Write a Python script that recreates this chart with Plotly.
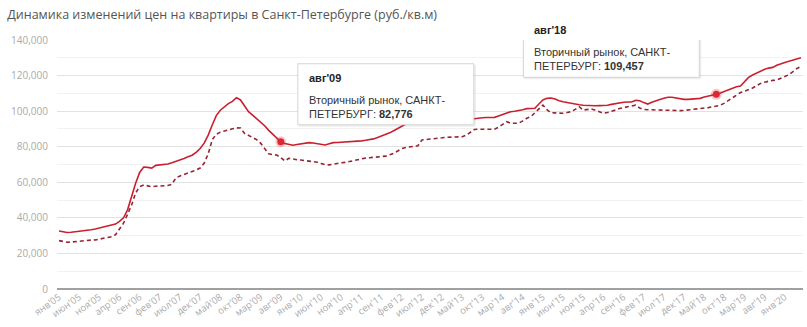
import plotly.graph_objects as go

months_ru = ["янв", "фев", "мар", "апр", "май", "июн", "июл", "авг", "сен", "окт", "ноя", "дек"]
start_year = 2005

secondary = [
    32600, 32200, 31800, 31900, 32100, 32400, 32800, 33100, 33300, 33700, 34200, 34800,
    35300, 35900, 36500, 38000, 40000, 44500, 52000, 59500, 65500, 68600, 68400, 68000,
    69500, 69800, 69900, 70300, 71000, 71700, 72500, 73400, 74300, 75200, 76800, 79000,
    82000, 86500, 92200, 97500, 100500, 102500, 104200, 105500, 107600, 106300, 103000, 99700,
    97800, 95800, 94000, 91800, 89200, 87000, 84500, 82776, 81800, 81300, 80800, 81200,
    81600, 82000, 82300, 82100, 81800, 81300, 81000, 81700, 82300, 82400, 82500, 82600,
    82700, 82800, 83000, 83300, 83600, 83800, 84400, 85200, 86000, 86800, 87800, 89000,
    90300, 91700, 93000, 94000, 94500, 94800, 95000, 95000, 94900, 95000, 95100, 95000,
    95100, 95200, 95200, 95300, 95300, 95400, 95400, 95800, 96100, 96300, 96400, 96400,
    96500, 97300, 98200, 99000, 99700, 99900, 100200, 100800, 101400, 101500, 101600, 104000,
    106300, 107200, 107400, 106800, 105800, 105300, 104800, 104300, 104000, 103600, 103300, 103100,
    103000, 103000, 103100, 103100, 103300, 103800, 104300, 104900, 105000, 105100, 105100, 106100,
    105800, 104800, 104000, 105000, 106000, 106600, 107200, 107800, 107800, 107400, 106700, 106600,
    106600, 106700, 106800, 107200, 107900, 108300, 108900, 109457, 110200, 111100, 111900, 112900,
    113700, 114100, 116500, 119000, 120300, 121500, 122700, 123500, 124200, 124600, 125800, 126800,
    127400, 128000, 128700, 129300, 130000,
]

primary = [
    27200, 26800, 26300, 26400, 26700, 26900, 27200, 27500, 27500, 27600, 28000, 28500,
    28800, 29400, 30500, 33500, 37000, 42000, 47200, 54000, 57500, 58500, 58000, 57500,
    57800, 58000, 58000, 58200, 58900, 62500, 63500, 64300, 65000, 66000, 66900, 68000,
    70800, 76000, 84000, 87000, 88200, 88800, 89600, 90100, 90600, 90500, 87500, 86300,
    85200, 84000, 82000, 79000, 76000, 75500, 75300, 73800, 72000, 73500, 73000, 72700,
    72500, 72300, 72100, 71800, 71300, 70600, 69900, 69800, 70300, 70900, 71000, 71200,
    71700, 72400, 73000, 73400, 73600, 73800, 74000, 74300, 74400, 74700, 75500, 76300,
    77600, 79000, 79600, 79900, 80000, 80500, 83800, 84000, 84100, 84200, 84500, 85000,
    85300, 85400, 85500, 85500, 85600, 86500, 88000, 89700, 89800, 89800, 89800, 89800,
    89800, 91000, 92500, 94100, 93200, 93200, 93200, 94500, 96000, 96900, 99000, 101600,
    103400, 100800, 99100, 99000, 98900, 98800, 99200, 99700, 101000, 102500, 100600, 100900,
    101200, 100500, 99600, 98800, 99200, 99700, 100600, 101500, 101900, 102400, 102900, 103400,
    101800, 101000, 100800, 100700, 100600, 100400, 100300, 100200, 100100, 100200, 100300, 100400,
    100600, 100800, 101000, 101300, 101600, 102000, 102400, 102800, 103300, 104500, 106000, 107800,
    109500, 110500, 111200, 111900, 113000, 114300, 115600, 116300, 116900, 117300, 117500, 118500,
    119400, 120500, 122200, 124000, 125000,
]

highlight_idx = [55, 163]
series_name = "Вторичный рынок, САНКТ-ПЕТЕРБУРГ"
title_text = "Динамика изменений цен на квартиры в Санкт-Петербурге (руб./кв.м)"

n = len(secondary)
labels = [f"{months_ru[i % 12]}'{(start_year + i // 12) % 100:02d}" for i in range(n)]
xs = list(range(n))
tick_vals = list(range(0, n, 5))
tick_text = [labels[i] for i in tick_vals]

fig = go.Figure()
fig.add_trace(go.Scatter(x=xs, y=primary, mode="lines",
                         line=dict(color="#952535", width=1.6, dash="4px,3px"),
                         hoverinfo="skip", showlegend=False))
fig.add_trace(go.Scatter(x=xs, y=secondary, mode="lines",
                         line=dict(color="#c8202f", width=1.6),
                         hoverinfo="skip", showlegend=False))
hx = highlight_idx
hy = [secondary[i] for i in hx]
fig.add_trace(go.Scatter(x=hx, y=hy, mode="markers",
                         marker=dict(size=11, color="rgba(220,40,50,0.25)"),
                         hoverinfo="skip", showlegend=False))
fig.add_trace(go.Scatter(x=hx, y=hy, mode="markers",
                         marker=dict(size=7, color="#dc2832"),
                         hoverinfo="skip", showlegend=False))

shapes = []
annotations = []
tip_font = "Liberation Sans, Arial, sans-serif"
for k, (i, v) in enumerate(zip(hx, hy)):
    if k == 0:
        x0, x1, tx = 17, 193, 26
    else:
        x0, x1, tx = -193, -17, -184
    # shadow
    shapes.append(dict(type="rect", xref="x", yref="y", xsizemode="pixel", ysizemode="pixel",
                       xanchor=i, yanchor=v, x0=x0 + 1, x1=x1 + 2, y0=15, y1=77,
                       line=dict(width=0), fillcolor="rgba(0,0,0,0.07)", layer="above"))
    shapes.append(dict(type="rect", xref="x", yref="y", xsizemode="pixel", ysizemode="pixel",
                       xanchor=i, yanchor=v, x0=x0, x1=x1, y0=17, y1=78,
                       line=dict(width=1, color="#d4d4d4"), fillcolor="white", layer="above"))
    annotations.append(dict(x=i, y=v, xref="x", yref="y", showarrow=False,
                            xanchor="left", yanchor="middle", xshift=tx, yshift=64,
                            text=f"<b>{labels[i]}</b>",
                            font=dict(family=tip_font, size=11, color="#222")))
    annotations.append(dict(x=i, y=v, xref="x", yref="y", showarrow=False,
                            xanchor="left", yanchor="middle", xshift=tx, yshift=35,
                            align="left",
                            text=f"Вторичный рынок, САНКТ-<br>ПЕТЕРБУРГ: <b>{v:,}</b>",
                            font=dict(family=tip_font, size=11, color="#333")))

fig.update_layout(
    width=807, height=327,
    margin=dict(l=57, r=4, t=40, b=38),
    paper_bgcolor="white", plot_bgcolor="white",
    title=dict(text=title_text, xref="container", yref="container", x=0.009, y=0.955,
               xanchor="left", yanchor="middle",
               font=dict(family="Open Sans", size=12.5, color="#555")),
    shapes=shapes, annotations=annotations,
    xaxis=dict(range=[-0.5, n - 0.5], tickmode="array", tickvals=tick_vals, ticktext=tick_text,
               tickangle=-35, tickfont=dict(family="Open Sans", size=9.5, color="#aaa"),
               showgrid=False, zeroline=False, showline=False, ticks=""),
    yaxis=dict(range=[0, 140000], tickvals=list(range(0, 140001, 20000)),
               tickformat=",d", tickfont=dict(family="Open Sans", size=10, color="#aaa"),
               showgrid=True, gridcolor="#e2e2e2", gridwidth=1,
               minor=dict(dtick=10000, showgrid=True, gridcolor="#f2f2f2", gridwidth=1),
               zeroline=True, zerolinecolor="#a0a0a0", zerolinewidth=2,
               ticklabelstandoff=8, showline=False),
    hovermode=False,
)

fig.write_html("out.html")
